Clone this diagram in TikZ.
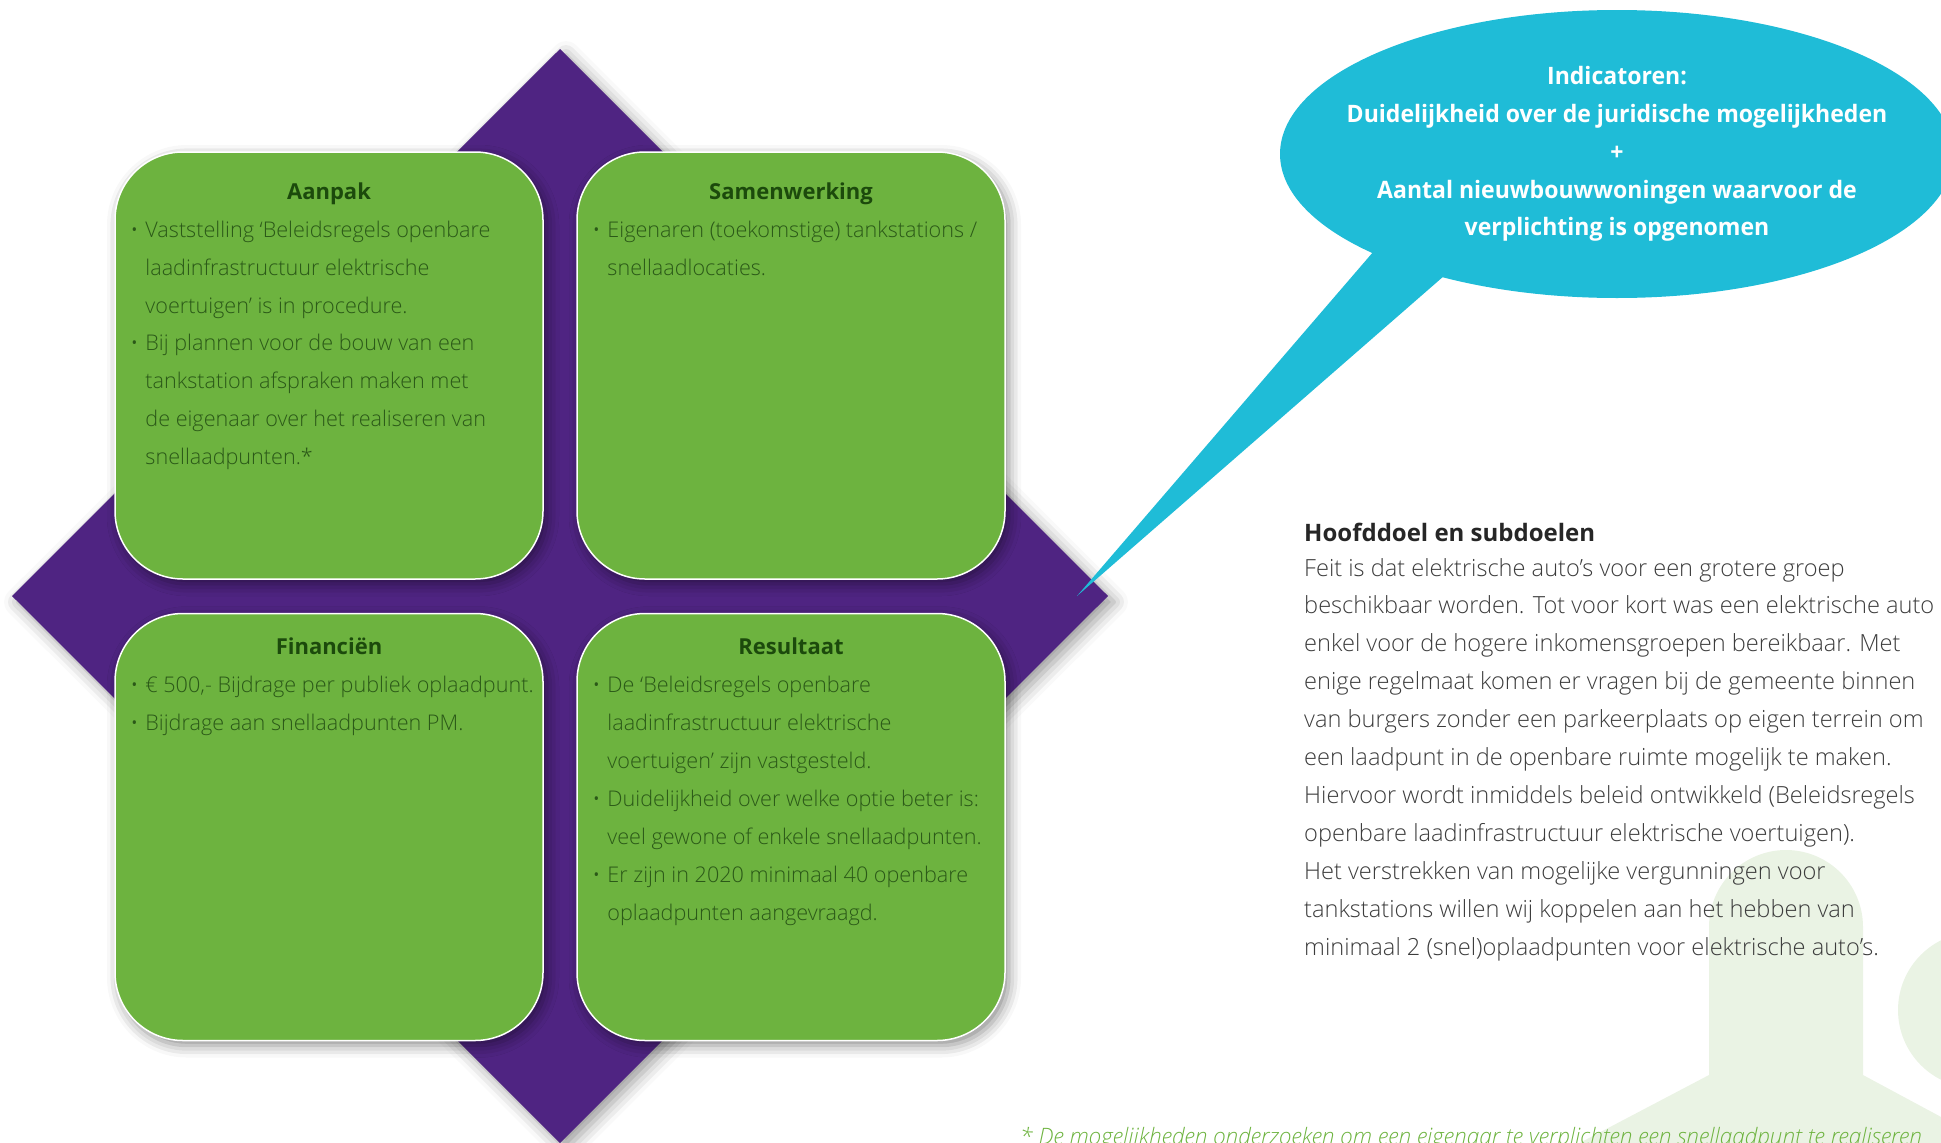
\documentclass[tikz,border=0pt]{standalone}
\usepackage{fontspec}
\IfFontExistsTF{Open Sans Light}{\setmainfont{Open Sans Light}}{\setmainfont{Open Sans}}
\newfontfamily\headfont{Open Sans}
\newfontfamily\bubblefont{Open Sans}[FakeStretch=0.96]
\usepackage{tikz}
\usetikzlibrary{positioning,calc,shapes.geometric,shadows}
\IfFileExists{tikzlibraryshadows.blur.code.tex}{%
  \usetikzlibrary{shadows.blur}%
  \tikzset{boxshadow/.style={blur shadow={shadow xshift=4pt,shadow yshift=-5pt,shadow blur radius=12pt,shadow opacity=45}},
    diamshadow/.style={blur shadow={shadow xshift=6pt,shadow yshift=-6pt,shadow blur radius=14pt,shadow opacity=40}}}%
}{%
  \tikzset{boxshadow/.style={drop shadow={shadow xshift=4pt,shadow yshift=-5pt,opacity=.25}},
    diamshadow/.style={drop shadow={shadow xshift=6pt,shadow yshift=-6pt,opacity=.2}}}%
}
\definecolor{boxgreen}{HTML}{6DB33F}
\definecolor{headgreen}{HTML}{1C4A0C}
\definecolor{textgreen}{HTML}{2B5918}
\definecolor{diampurple}{HTML}{4F2482}
\definecolor{bubblecyan}{HTML}{1FBCD7}
\definecolor{bodygrey}{HTML}{3C3C3C}
\definecolor{leaf}{HTML}{EAF3E4}
\newcommand*{\bt}{\fontsize{21.6}{37.9}\selectfont}
\newcommand*{\bl}{\makebox[15pt][l]{\textbullet}}
\newcommand*{\nx}{\hspace*{15pt}}
\newcommand{\rows}[1]{\begin{tabular}[t]{@{}l@{}}#1\end{tabular}}

\begin{document}
\begin{tikzpicture}[x=1pt,y=-1pt,
  box/.style={draw=white,line width=1.5pt,fill=boxgreen,rounded corners=68pt,
    minimum width=428pt,minimum height=427pt,inner sep=0pt,boxshadow},
  boxhead/.style={anchor=base,inner sep=0pt,text=headgreen,
    font=\headfont\bfseries\fontsize{22}{26}\selectfont},
  boxbody/.style={anchor=base west,inner sep=0pt,text=textgreen,font=\bt}]
\useasboundingbox (0,0) rectangle (1941,1143);

\fill[leaf] (1709,1075) -- (1709,927) arc[start angle=180,end angle=360,radius=77]
  -- (1863,1075) -- (2036,1168) -- (1532,1168) -- cycle;
\fill[leaf] (1976,1010) circle[radius=78];

\coordinate (T) at (560,49);
\coordinate (R) at (1108,596);
\coordinate (B) at (560,1143);
\coordinate (L) at (12,596);
\fill[diampurple,diamshadow] (T) -- (R) -- (B) -- (L) -- cycle;

\node[box] (aanpak) at (329,365.5) {};
\node[box] (samen) at (791,365.5) {};
\node[box] (fin) at (329,827) {};
\node[box] (res) at (791,827) {};

\node[boxhead] (aanpakT) at ($(aanpak.north)+(0,48)$) {Aanpak};
\node[boxhead] (samenT) at ($(samen.north)+(0,48)$) {Samenwerking};
\node[boxhead] (finT) at ($(fin.north)+(0,42)$) {Financiën};
\node[boxhead] (resT) at ($(res.north)+(0,42)$) {Resultaat};

\node[boxbody] (aanpakB) at ($(aanpak.north west)+(16,86)$) {\rows{%
  \bl Vaststelling ‘Beleidsregels openbare\\
  \nx laadinfrastructuur elektrische\\
  \nx voertuigen’ is in procedure.\\
  \bl Bij plannen voor de bouw van een\\
  \nx tankstation afspraken maken met\\
  \nx de eigenaar over het realiseren van\\
  \nx snellaadpunten.*}};
\node[boxbody] (samenB) at ($(samen.north west)+(16,86)$) {\rows{%
  \bl Eigenaren (toekomstige) tankstations /\\
  \nx snellaadlocaties.}};
\node[boxbody] (finB) at ($(fin.north west)+(16,80)$) {\rows{%
  \bl € 500,- Bijdrage per publiek oplaadpunt.\\
  \bl Bijdrage aan snellaadpunten PM.}};
\node[boxbody] (resB) at ($(res.north west)+(16,80)$) {\rows{%
  \bl De ‘Beleidsregels openbare\\
  \nx laadinfrastructuur elektrische\\
  \nx voertuigen’ zijn vastgesteld.\\
  \bl Duidelijkheid over welke optie beter is:\\
  \nx veel gewone of enkele snellaadpunten.\\
  \bl Er zijn in 2020 minimaal 40 openbare\\
  \nx oplaadpunten aangevraagd.}};

\coordinate (tip) at (1077,596);
\fill[bubblecyan] (1386,237) -- (tip) -- (1460,262) -- cycle;
\node[ellipse,fill=bubblecyan,minimum width=674pt,minimum height=288pt,inner sep=0pt]
  (bubble) at (1617,154) {};
\node[text=white,align=center,inner sep=0pt,
  font=\bubblefont\bfseries\fontsize{24}{37.8}\selectfont]
  (bubbleT) at (bubble.center) {Indicatoren:\\
  Duidelijkheid over de juridische mogelijkheden\\
  +\\
  Aantal nieuwbouwwoningen waarvoor de\\
  verplichting is opgenomen};

\node[anchor=base west,inner sep=0pt,text=black!85,
  font=\headfont\bfseries\fontsize{24}{28}\selectfont] (goal) at (1304,541) {Hoofddoel en subdoelen};
\node[anchor=base west,inner sep=0pt,text=bodygrey,font=\fontsize{23.6}{37.9}\selectfont]
  (goalB) at (1304,576) {\rows{%
  Feit is dat elektrische auto’s voor een grotere groep\\
  beschikbaar worden. Tot voor kort was een elektrische auto\\
  enkel voor de hogere inkomensgroepen bereikbaar. Met\\
  enige regelmaat komen er vragen bij de gemeente binnen\\
  van burgers zonder een parkeerplaats op eigen terrein om\\
  een laadpunt in de openbare ruimte mogelijk te maken.\\
  Hiervoor wordt inmiddels beleid ontwikkeld (Beleidsregels\\
  openbare laadinfrastructuur elektrische voertuigen).\\
  Het verstrekken van mogelijke vergunningen voor\\
  tankstations willen wij koppelen aan het hebben van\\
  minimaal 2 (snel)oplaadpunten voor elektrische auto’s.}};

\node[anchor=base west,inner sep=0pt,text=boxgreen,font=\itshape\fontsize{22.6}{26}\selectfont]
  (note) at (1020,1144) {* De mogelijkheden onderzoeken om een eigenaar te verplichten een snellaadpunt te realiseren};
\end{tikzpicture}
\end{document}
